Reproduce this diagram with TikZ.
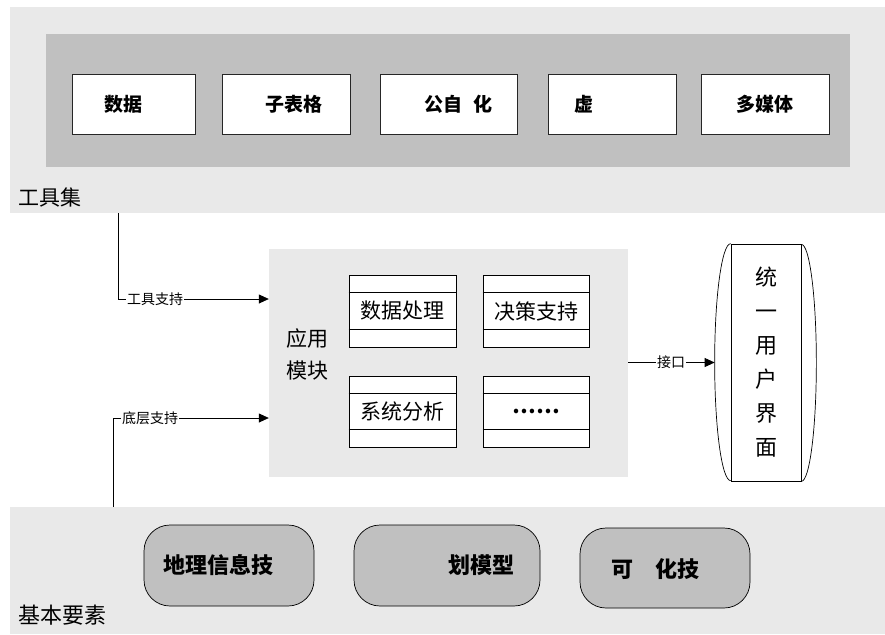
\documentclass[tikz,border=0pt]{standalone}
\usepackage{fontspec}
\newfontfamily\cjk{Noto Sans CJK SC}
\usetikzlibrary{arrows.meta,calc}
\definecolor{lg}{HTML}{E9E9E9}
\definecolor{dg}{HTML}{C0C0C0}
\tikzset{
  every node/.style={font=\cjk},
  panel/.style={fill=lg, draw=none, inner sep=0pt},
  wbox/.style={draw=black!85, fill=white, line width=0.8pt, minimum width=128pt, minimum height=60pt, inner sep=0pt},
  bt/.style={font=\cjk\bfseries\fontsize{19}{22}\selectfont},
  bb/.style={font=\cjk\bfseries\fontsize{22}{26}\selectfont},
  rbox/.style={draw=black, fill=dg, line width=0.7pt, rounded corners=26pt, minimum width=170pt, minimum height=81pt, inner sep=0pt},
  mbox/.style={draw=black, fill=white, line width=0.7pt, minimum width=107pt, minimum height=72pt, inner sep=0pt, font=\cjk\fontsize{21}{24}\selectfont},
  big/.style={font=\cjk\fontsize{21}{24}\selectfont, inner sep=0pt},
  small/.style={font=\cjk\fontsize{14}{16}\selectfont, inner sep=1pt},
  conn/.style={line width=0.7pt},
  arr/.style={line width=0.7pt, -{Triangle[length=10pt,width=9pt]}}
}
\begin{document}
\begin{tikzpicture}[x=1pt,y=-1pt]
\useasboundingbox (0,0) rectangle (885,634);
% top panel
\node[panel, minimum width=875pt, minimum height=206pt] (toolset) at (447.5,110) {};
\node[fill=dg, inner sep=0pt, minimum width=804pt, minimum height=133pt] (inner) at (448,100.5) {};
\node[wbox, minimum width=123pt, label={[bt,xshift=-10.5pt]center:数据}] (b1) at (133.5,104) {};
\node[wbox, label={[bt,xshift=8pt]center:子表格}] (b2) at (286,104) {};
\node[wbox, minimum width=137pt, label={[bt,xshift=10pt]center:公自\hspace{0.6em}化}] (b3) at (448.5,104) {};
\node[wbox, label={[bt,xshift=-28pt]center:虚}] (b4) at (612,104) {};
\node[wbox, label={[bt]center:多媒体}] (b5) at (765,104) {};
\node[big] (toolname) at (50,197) {工具集};
% bottom panel
\node[panel, minimum width=875pt, minimum height=127pt] (base) at (447.5,570.5) {};
\node[rbox, label={[bb,xshift=-11pt]center:地理信息技}] (r1) at (229,565.5) {};
\node[rbox, minimum width=186pt, label={[bb,xshift=34pt]center:划模型}] (r2) at (447,565.5) {};
\node[rbox, minimum height=80pt, label={[bb,xshift=-10pt,yshift=-1pt]center:可\hspace{1em}化技}] (r3) at (665,568) {};
\node[big, font=\cjk\fontsize{22}{24}\selectfont] (basename) at (62,615) {基本要素};
% application panel
\node[panel, minimum width=359pt, minimum height=228pt] (app) at (448.5,363) {};
\node[big, align=center, font=\cjk\fontsize{21}{32}\selectfont] (appname) at (307,354) {应用\\模块};
\node[mbox] (m1) at (402.5,311) {数据处理};
\node[mbox, minimum width=106pt] (m2) at (536,311) {决策支持};
\node[mbox, minimum height=71pt] (m3) at (402.5,411.5) {系统分析};
\node[mbox, minimum width=106pt, minimum height=71pt, font=\cjk\bfseries\fontsize{21}{24}\selectfont] (m4) at (536,411.5) {……};
\foreach \m in {m1,m2,m3,m4}{
  \draw[conn] ([yshift=-18pt]\m.north west) -- ([yshift=-18pt]\m.north east);
  \draw[conn] ([yshift=18pt]\m.south west) -- ([yshift=18pt]\m.south east);
}
% unified UI
\node[draw=black, line width=0.7pt, minimum width=70pt, minimum height=237pt, inner sep=0pt, align=center, font=\cjk\fontsize{22}{34}\selectfont] (ui) at (766,362.5) {统\\一\\用\\户\\界\\面};
\draw[conn] (ui.north west) arc[start angle=90, end angle=270, x radius=16pt, y radius=118.5pt];
\draw[conn] (ui.south east) arc[start angle=-90, end angle=90, x radius=15pt, y radius=118.5pt];
\coordinate (uiin) at ($(ui.west)+(-16,0)$);
% connectors
\coordinate (c1) at (118,213);
\node[small] (l1) at (155,299) {工具支持};
\draw[conn] (c1) |- (l1.west);
\draw[arr] (l1.east) -- (app.west |- l1.east);
\coordinate (c2) at (113,507);
\node[small] (l2) at (150,418) {底层支持};
\draw[conn] (c2) |- (l2.west);
\draw[arr] (l2.east) -- (app.west |- l2.east);
\node[small] (l3) at (671,362.5) {接口};
\draw[conn] (app.east |- l3.west) -- (l3.west);
\draw[arr] (l3.east) -- (uiin);
\end{tikzpicture}
\end{document}
